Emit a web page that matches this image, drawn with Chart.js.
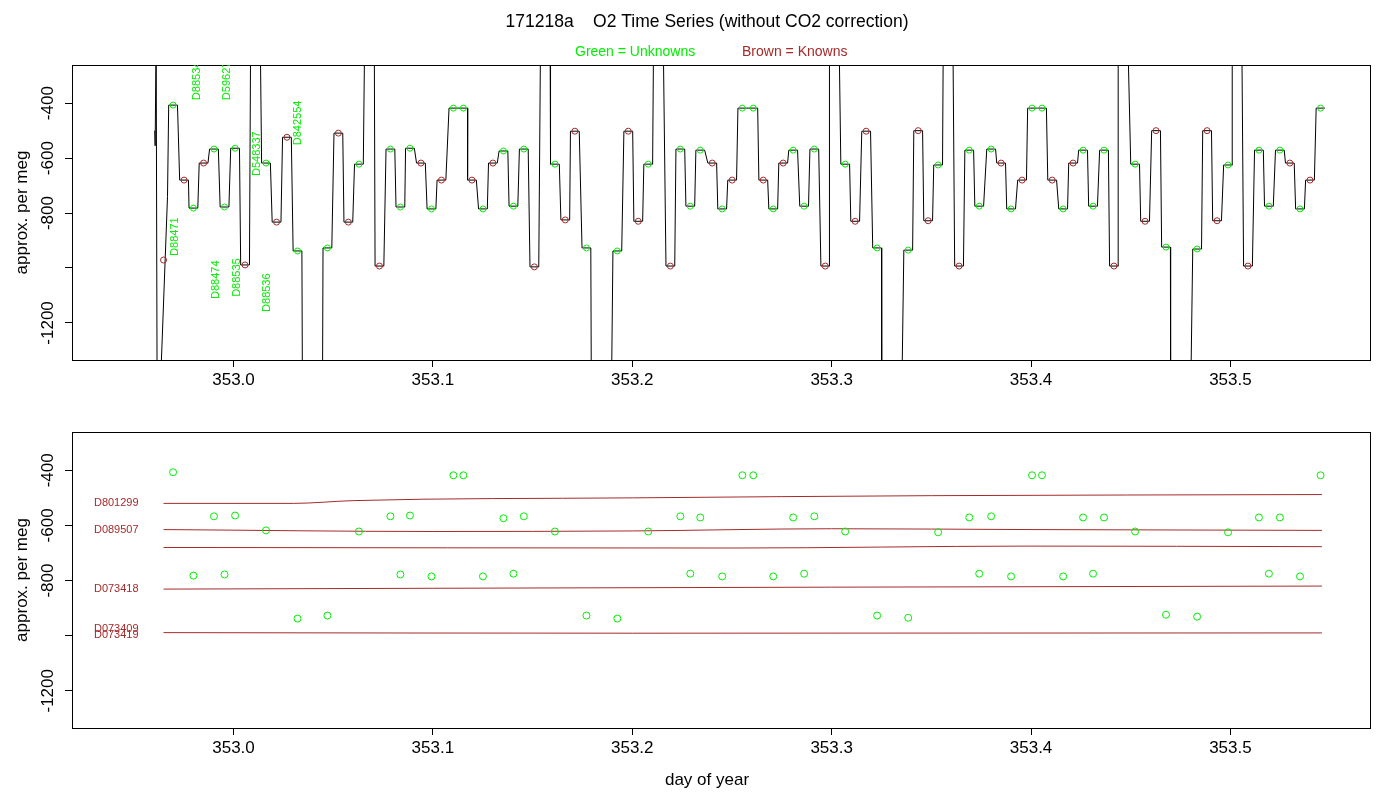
<!DOCTYPE html>
<html><head><meta charset="utf-8">
<script src="https://cdn.jsdelivr.net/npm/chart.js@4.4.1/dist/chart.umd.min.js"></script>
<style>body{margin:0;background:#fff}canvas{position:absolute;left:0}</style>
</head><body>
<canvas id="c1" width="1400" height="400" style="top:0"></canvas>
<canvas id="c2" width="1400" height="400" style="top:400px"></canvas>
<script>
const FONT='"Liberation Sans", Arial, sans-serif';
const xTicks=[353.0,353.1,353.2,353.3,353.4,353.5];
const yTicks=[-1200,-1000,-800,-600,-400];
const yLabels=[-400,-600,-800,-1200];
// plateau centre times, values, kind (U = unknown, K = known)
const plT=[352.9697,352.9752,352.9799,352.9850,352.9902,352.9955,353.0008,353.0058,353.0163,353.0216,353.0268,353.0321,
353.0471,353.0526,353.0576,353.0629,353.0732,353.0787,353.0837,353.0885,353.0940,353.0993,353.1043,353.1103,353.1153,353.1196,353.1251,353.1301,353.1354,353.1404,353.1456,353.1509,353.1612,353.1664,353.1712,353.1770,
353.1925,353.1980,353.2030,353.2080,353.2191,353.2241,353.2291,353.2341,353.2401,353.2451,353.2501,353.2552,353.2607,353.2657,353.2707,353.2757,353.2807,353.2862,353.2913,353.2968,353.3068,353.3118,353.3173,353.3228,
353.3384,353.3434,353.3484,353.3534,353.3639,353.3690,353.3740,353.3800,353.3850,353.3900,353.3955,353.4005,353.4055,353.4106,353.4161,353.4211,353.4261,353.4311,353.4366,353.4416,353.4522,353.4572,353.4627,353.4677,
353.4833,353.4883,353.4933,353.4988,353.5088,353.5143,353.5193,353.5248,353.5298,353.5349,353.5399,353.5452];
const plV=[-407,-680,-782,-618,-567,-778,-564,-989,-618,-833,-524,-938,
-927,-509,-833,-622,-993,-567,-778,-564,-618,-785,-680,-418,-418,-680,-785,-618,-574,-775,-567,-996,-622,-825,-502,-927,
-938,-502,-830,-622,-993,-567,-775,-571,-618,-785,-680,-418,-418,-680,-785,-618,-571,-775,-567,-993,-622,-830,-502,-927,
-935,-500,-828,-625,-993,-571,-775,-567,-618,-785,-680,-418,-418,-680,-785,-618,-571,-775,-571,-993,-622,-830,-500,-924,
-931,-500,-828,-625,-993,-571,-775,-571,-618,-785,-680,-418];
const plK='UKUKUUUKUKKU'+'UKKUKUUUKUKUUKUKUUUKUKKU'+'UKKUKUUUKUKUUKUKUUUKUKKU'+'UKKUKUUUKUKUUKUKUUUKUKKU'+'UKKUKUUUKUKU';
const upT=[353.0110,353.0682,353.1564,353.2131,353.3013,353.3584,353.4461,353.5033];
const dropT=[353.0396,353.1845,353.3301,353.4750];
const introT=[352.9605,352.9607,352.9612,352.9617,352.9630,352.9669];
const introV=[-500,-555,-150,-1500,-1500,-740];
const loneKT=[352.9649], loneKV=[-971];
const topLabels=[['D88534',352.9815,-389],['D59627',352.9965,-389],['D548337',353.0120,-665],['D842554',353.0321,-553],
['D88471',352.9704,-956],['D88474',352.9910,-1113],['D88535',353.0015,-1105],['D88536',353.0170,-1160]];
// standards smoothing lines (bottom)
const stdT=[[352.9649,353.03,353.06,353.2,353.35,353.5459],[352.9649,353.1,353.2,353.3,353.4,353.5459],[352.9649,353.25,353.4,353.5459],[352.9649,353.1,353.3,353.5459],[352.9649,353.2,353.5459]];
const stdV=[[-520,-520,-510,-500,-492,-488],[-615,-622,-620,-612,-615,-618],[-680,-682,-675,-677],[-831,-828,-824,-820],[-989,-991,-990]];
const stdLab=[['D801299',-520],['D089507',-618],['D073418',-831],['D073409',-975],['D073419',-997]];

const GREEN='#00ee00', BROWN='#a52a2a';
const xMin=352.919,xMax=353.570,yMin=-1335,yMax=-261;

const ev=[];
plT.forEach((t,i)=>ev.push([t,[[t-0.0022,plV[i]],[t+0.0022,plV[i]]]]));
upT.forEach(t=>ev.push([t,[[t-0.0024,-150],[t+0.0024,-150]]]));
dropT.forEach(t=>ev.push([t,[[t-0.005,-1500],[t+0.005,-1500]]]));
ev.sort((a,b)=>a[0]-b[0]);
const lineData=introT.map((t,i)=>({x:t,y:introV[i]}));
ev.forEach(e=>e[1].forEach(p=>lineData.push({x:p[0],y:p[1]})));
const uPts=[],kPts=[];
plT.forEach((t,i)=>(plK[i]==='U'?uPts:kPts).push({x:t,y:plV[i]}));
loneKT.forEach((t,i)=>kPts.push({x:t,y:loneKV[i]}));

function scales(xh){return{
 x:{type:'linear',min:xMin,max:xMax,afterBuildTicks:s=>{s.ticks=xTicks.map(v=>({value:v}))},afterFit:s=>{s.height=xh},
  ticks:{callback:v=>v.toFixed(1),font:{size:17,family:FONT},color:'#000',padding:3,maxRotation:0,autoSkip:false},
  grid:{drawOnChartArea:false,tickLength:7,color:'#000'},border:{display:false}},
 y:{type:'linear',min:yMin,max:yMax,afterBuildTicks:s=>{s.ticks=yTicks.map(v=>({value:v}))},afterFit:s=>{s.width=72},
  ticks:{display:false},grid:{drawOnChartArea:false,tickLength:7,color:'#000'},border:{display:false}}}}

function deco(extra){return{id:'deco',afterDraw(c){
 const g=c.ctx,a=c.chartArea,ys=c.scales.y;g.save();
 g.strokeStyle='#000';g.lineWidth=1;g.strokeRect(a.left+0.5,a.top+0.5,a.right-a.left,a.bottom-a.top);
 g.fillStyle='#000';g.font='17px '+FONT;g.textAlign='center';g.textBaseline='middle';
 yLabels.forEach(v=>{g.save();g.translate(48,ys.getPixelForValue(v));g.rotate(-Math.PI/2);g.fillText(String(v),0,0);g.restore();});
 g.save();g.translate(22,(a.top+a.bottom)/2);g.rotate(-Math.PI/2);g.fillText('approx. per meg',0,0);g.restore();
 extra(c,g);g.restore();}}}

const common={responsive:false,animation:false,devicePixelRatio:1,plugins:{legend:{display:false},tooltip:{enabled:false}}};

new Chart(document.getElementById('c1'),{type:'scatter',data:{datasets:[
 {type:'line',data:lineData,borderColor:'#000',borderWidth:1,pointRadius:0,tension:0,order:3},
 {data:uPts,borderColor:GREEN,backgroundColor:'rgba(0,0,0,0)',pointRadius:3,borderWidth:1,order:1},
 {data:kPts,borderColor:BROWN,backgroundColor:'rgba(0,0,0,0)',pointRadius:3,borderWidth:1,order:2}]},
 options:{...common,layout:{padding:{left:0,right:30,top:65,bottom:0}},scales:scales(40)},
 plugins:[deco((c,g)=>{
  const xs=c.scales.x,ys=c.scales.y,a=c.chartArea;
  g.font='17.5px '+FONT;g.fillStyle='#000';g.textAlign='center';g.fillText('171218a    O2 Time Series (without CO2 correction)',707,22);
  g.font='14px '+FONT;g.textAlign='left';g.fillStyle=GREEN;g.fillText('Green = Unknowns',575,52);
  g.fillStyle=BROWN;g.fillText('Brown = Knowns',742,52);
  g.save();g.beginPath();g.rect(a.left,a.top,a.right-a.left,a.bottom-a.top);g.clip();
  g.font='11px '+FONT;g.fillStyle=GREEN;g.textAlign='left';g.textBaseline='middle';
  topLabels.forEach(l=>{g.save();g.translate(xs.getPixelForValue(l[1]),ys.getPixelForValue(l[2]));g.rotate(-Math.PI/2);g.fillText(l[0],0,0);g.restore();});
  g.restore();})]});

const ds2=[{data:uPts,borderColor:GREEN,backgroundColor:'rgba(0,0,0,0)',pointRadius:3.5,borderWidth:1,order:1}];
stdT.forEach((ts,i)=>ds2.push({type:'line',data:ts.map((t,j)=>({x:t,y:stdV[i][j]})),borderColor:BROWN,borderWidth:1,pointRadius:0,cubicInterpolationMode:'monotone',order:2}));
new Chart(document.getElementById('c2'),{type:'scatter',data:{datasets:ds2},
 options:{...common,layout:{padding:{left:0,right:30,top:32,bottom:0}},scales:scales(72)},
 plugins:[deco((c,g)=>{
  const xs=c.scales.x,ys=c.scales.y;
  g.font='17px '+FONT;g.fillStyle='#000';g.textAlign='center';g.fillText('day of year',707,380);
  g.font='11px '+FONT;g.fillStyle=BROWN;g.textAlign='right';
  stdLab.forEach(l=>g.fillText(l[0],xs.getPixelForValue(352.9524),ys.getPixelForValue(l[1])));})]});
</script></body></html>
